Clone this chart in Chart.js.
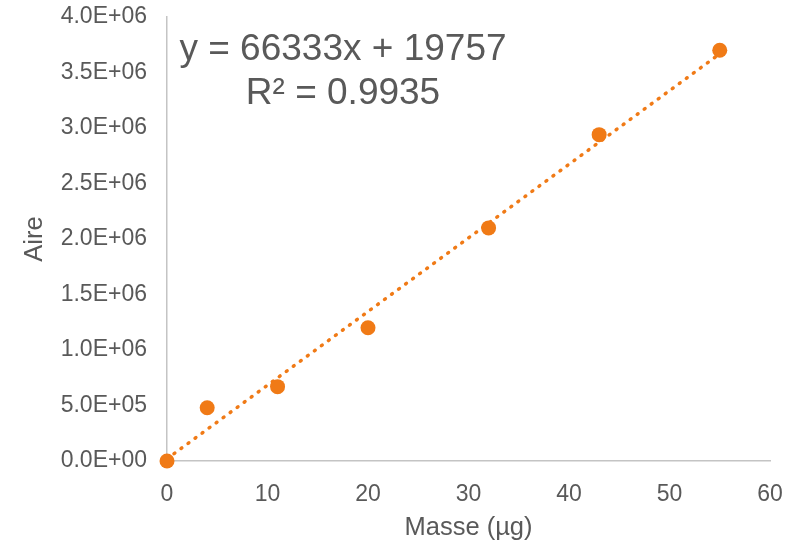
<!DOCTYPE html>
<html>
<head>
<meta charset="utf-8">
<script src="https://cdn.jsdelivr.net/npm/chart.js@4/dist/chart.umd.min.js"></script>
<style>
  html, body { margin: 0; padding: 0; background: #ffffff; }
  #wrap { width: 792px; height: 546px; }
</style>
</head>
<body>
<div id="wrap"><canvas id="chart" width="792" height="546"></canvas></div>
<script>
// Calibration data: mass (µg) vs. peak area
const masses = [0, 4, 11, 20, 32, 43, 55];
const areas = [0, 480000, 670000, 1200000, 2100000, 2940000, 3700000];

// Linear trendline as reported on the chart
const slope = 66333;
const intercept = 19757;
const rSquared = 0.9935;

// Axis ranges and steps
const xTicks = [0, 10, 20, 30, 40, 50, 60];
const yTicks = [0, 500000, 1000000, 1500000, 2000000, 2500000, 3000000, 3500000, 4000000];

const orange = '#F07A16';
const textGrey = '#595959';
const axisGrey = '#C4C4C4';
const family = '"Liberation Sans", Arial, sans-serif';

const points = masses.map((m, i) => ({ x: m, y: areas[i] }));
const xFirst = masses[0];
const xLast = masses[masses.length - 1];
const trend = [xFirst, xLast].map(x => ({ x: x, y: slope * x + intercept }));

// Excel-style scientific notation: 3.5E+06
function sci(v) {
  if (v === 0) return '0.0E+00';
  const exp = Math.floor(Math.log10(Math.abs(v)));
  const mant = v / Math.pow(10, exp);
  const sign = exp < 0 ? '-' : '+';
  return mant.toFixed(1) + 'E' + sign + String(Math.abs(exp)).padStart(2, '0');
}

const equationLabel = {
  id: 'equationLabel',
  afterDatasetsDraw(chart) {
    const ctx = chart.ctx;
    ctx.save();
    ctx.fillStyle = textGrey;
    ctx.font = '37px ' + family;
    ctx.textAlign = 'center';
    ctx.textBaseline = 'alphabetic';
    ctx.fillText('y = ' + slope + 'x + ' + intercept, 343, 60);
    ctx.fillText('R\u00B2 = ' + rSquared.toFixed(4), 343, 104);
    ctx.restore();
  }
};

new Chart(document.getElementById('chart'), {
  type: 'scatter',
  data: {
    datasets: [
      {
        label: 'Aire',
        data: points,
        backgroundColor: orange,
        borderColor: orange,
        pointRadius: 7.5,
        pointHoverRadius: 7.5,
        pointBorderWidth: 0,
        showLine: false,
        clip: false,
        order: 0
      },
      {
        label: 'Linéaire (Aire)',
        data: trend,
        showLine: true,
        borderColor: orange,
        borderWidth: 3.5,
        borderDash: [1, 7.7],
        borderCapStyle: 'round',
        pointRadius: 0,
        pointHoverRadius: 0,
        fill: false,
        clip: false,
        order: 1
      }
    ]
  },
  options: {
    responsive: false,
    animation: false,
    events: [],
    layout: { padding: { top: 17, right: 22, bottom: 0, left: 0 } },
    plugins: {
      legend: { display: false },
      tooltip: { enabled: false }
    },
    scales: {
      x: {
        type: 'linear',
        min: xTicks[0],
        max: xTicks[xTicks.length - 1],
        afterBuildTicks: s => { s.ticks = xTicks.map(v => ({ value: v })); },
        grid: { display: false, drawTicks: false },
        border: { display: true, color: axisGrey, width: 1.5 },
        ticks: { color: textGrey, font: { family: family, size: 23 }, padding: 20 },
        title: {
          display: true,
          text: 'Masse (\u00B5g)',
          color: textGrey,
          font: { family: family, size: 25.5 },
          padding: { top: 0, bottom: 3 }
        },
        afterFit: s => {
          s.height = 85;
          s.paddingLeft = 0;
          s.paddingRight = 0;
        }
      },
      y: {
        type: 'linear',
        min: yTicks[0],
        max: yTicks[yTicks.length - 1],
        afterBuildTicks: s => { s.ticks = yTicks.map(v => ({ value: v })); },
        grid: { display: false, drawTicks: false },
        border: { display: true, color: axisGrey, width: 1.5 },
        ticks: { color: textGrey, font: { family: family, size: 23 }, padding: 20, callback: v => sci(v) },
        title: {
          display: true,
          text: 'Aire',
          color: textGrey,
          font: { family: family, size: 25.5 },
          padding: { top: 20, bottom: 20 }
        },
        afterFit: s => {
          s.width = 167;
          s.paddingTop = 0;
          s.paddingBottom = 0;
        }
      }
    }
  },
  plugins: [equationLabel]
});
</script>
</body>
</html>
